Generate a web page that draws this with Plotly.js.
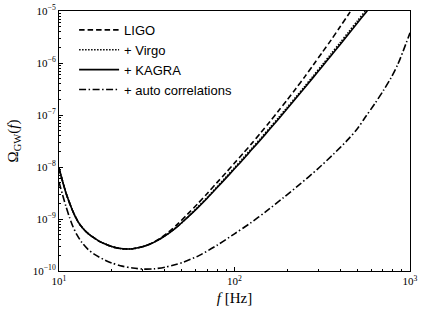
<!DOCTYPE html>
<html>
<head>
<meta charset="utf-8">
<script src="https://cdn.plot.ly/plotly-3.0.1.min.js"></script>
<style>html,body{margin:0;padding:0;background:#fff;}#plot{width:424px;height:316px;}</style>
</head>
<body>
<div id="plot"></div>
<script>
// Series names
const seriesNames = ["LIGO", "+ Virgo", "+ KAGRA", "+ auto correlations"];

// Frequencies (Hz) at which the network curves were read
const fNet = [10, 10.47, 10.96, 11.48, 11.89, 12.33, 12.88, 13.49, 14.13, 14.79, 15.85, 16.98, 18.32, 19.95, 22.39, 24.49, 26.3, 28.18, 30.2, 32.28, 34.67, 38.02, 41.98, 47.86, 53.83, 61.66, 70.15, 79.43, 89.13, 100, 112.2, 125.9, 141.3, 158.5, 177.8, 199.5, 223.9, 251.2, 281.8, 316.2, 354.8, 398.1, 446.7, 501.2, 562.3, 631.0];

// LIGO (dashed)
const omegaLIGO = [9.55e-9, 5.37e-9, 3.16e-9, 2.04e-9, 1.51e-9, 1.15e-9, 8.71e-10, 7.0e-10, 5.89e-10, 5.13e-10, 4.32e-10, 3.72e-10, 3.31e-10, 2.95e-10, 2.70e-10, 2.65e-10, 2.68e-10, 2.79e-10, 2.95e-10, 3.20e-10, 3.59e-10, 4.34e-10, 5.56e-10, 8.22e-10, 1.22e-9, 1.96e-9, 3.13e-9, 5.01e-9, 7.67e-9, 1.19e-8, 1.84e-8, 2.88e-8, 4.57e-8, 7.33e-8, 1.19e-7, 1.95e-7, 3.24e-7, 5.41e-7, 9.29e-7, 1.60e-6, 2.75e-6, 4.88e-6, 8.67e-6, 1.54e-5, 2.75e-5, 4.9e-5];

// + Virgo (dotted)
const omegaVirgo = [9.55e-9, 5.37e-9, 3.16e-9, 2.04e-9, 1.51e-9, 1.15e-9, 8.71e-10, 7.0e-10, 5.89e-10, 5.13e-10, 4.32e-10, 3.72e-10, 3.31e-10, 2.95e-10, 2.70e-10, 2.65e-10, 2.68e-10, 2.79e-10, 2.95e-10, 3.20e-10, 3.55e-10, 4.22e-10, 5.25e-10, 7.41e-10, 1.06e-9, 1.68e-9, 2.63e-9, 4.14e-9, 6.31e-9, 9.66e-9, 1.49e-8, 2.31e-8, 3.57e-8, 5.61e-8, 8.79e-8, 1.40e-7, 2.22e-7, 3.55e-7, 5.70e-7, 9.18e-7, 1.49e-6, 2.41e-6, 3.93e-6, 6.40e-6, 1.04e-5, 1.70e-5];

// + KAGRA (solid)
const omegaKAGRA = [9.55e-9, 5.37e-9, 3.16e-9, 2.04e-9, 1.51e-9, 1.15e-9, 8.71e-10, 7.0e-10, 5.89e-10, 5.13e-10, 4.32e-10, 3.72e-10, 3.31e-10, 2.95e-10, 2.70e-10, 2.65e-10, 2.68e-10, 2.79e-10, 2.95e-10, 3.20e-10, 3.55e-10, 4.22e-10, 5.25e-10, 7.41e-10, 1.06e-9, 1.64e-9, 2.54e-9, 3.98e-9, 6.03e-9, 9.23e-9, 1.41e-8, 2.19e-8, 3.39e-8, 5.31e-8, 8.32e-8, 1.32e-7, 2.09e-7, 3.33e-7, 5.35e-7, 8.57e-7, 1.38e-6, 2.23e-6, 3.61e-6, 5.86e-6, 9.51e-6, 1.55e-5];

// + auto correlations (dash-dot)
const fAuto = [10, 10.47, 10.96, 11.48, 12.02, 12.59, 13.49, 14.59, 15.85, 18.28, 19.95, 22.91, 26.3, 30.2, 34.67, 40.36, 45.71, 51.17, 63.1, 79.98, 100, 123.0, 151.4, 190.1, 237.1, 297.2, 367.3, 446.7, 504.7, 562.3, 631.0, 707.9, 778.0, 851.1, 912.0, 955.0, 1000];
const omegaAuto = [5.13e-9, 2.95e-9, 1.74e-9, 1.07e-9, 7.08e-10, 5.13e-10, 3.55e-10, 2.63e-10, 2.11e-10, 1.62e-10, 1.43e-10, 1.24e-10, 1.14e-10, 1.09e-10, 1.10e-10, 1.19e-10, 1.32e-10, 1.48e-10, 2.00e-10, 3.16e-10, 5.19e-10, 8.32e-10, 1.40e-9, 2.57e-9, 4.73e-9, 9.12e-9, 1.78e-8, 3.47e-8, 5.62e-8, 9.55e-8, 1.66e-7, 3.02e-7, 5.13e-7, 9.33e-7, 1.66e-6, 2.51e-6, 3.80e-6];

const xTickVals = [10, 100, 1000];
const xTickText = ["10<sup>1</sup>", "10<sup>2</sup>", "10<sup>3</sup>"];
const yTickVals = [1e-10, 1e-9, 1e-8, 1e-7, 1e-6, 1e-5];
const yTickText = ["10<sup>−10</sup>", "10<sup>−9</sup>", "10<sup>−8</sup>", "10<sup>−7</sup>", "10<sup>−6</sup>", "10<sup>−5</sup>"];

const lw = 1.6;
const sm = {shape: "spline", smoothing: 0.8};
const traces = [
  {x: fNet, y: omegaLIGO, name: seriesNames[0], mode: "lines", line: Object.assign({color: "#000", width: lw, dash: "5.5px,3px"}, sm)},
  {x: fNet, y: omegaVirgo, name: seriesNames[1], mode: "lines", line: Object.assign({color: "#000", width: lw, dash: "1.5px,1.5px"}, sm)},
  {x: fNet, y: omegaKAGRA, name: seriesNames[2], mode: "lines", line: Object.assign({color: "#000", width: lw, dash: "solid"}, sm)},
  {x: fAuto, y: omegaAuto, name: seriesNames[3], mode: "lines", line: Object.assign({color: "#000", width: lw, dash: "7px,2.5px,1.5px,2.5px"}, sm)}
];

const serif = "Liberation Serif, DejaVu Serif, serif";
const layout = {
  width: 424, height: 316,
  margin: {l: 59, r: 14, t: 11, b: 45},
  paper_bgcolor: "#fff", plot_bgcolor: "#fff",
  showlegend: true,
  legend: {x: 0.043, y: 0.985, xanchor: "left", yanchor: "top", bgcolor: "rgba(0,0,0,0)", borderwidth: 0,
           font: {family: "Liberation Sans, Arial, sans-serif", size: 13, color: "#000"}, tracegroupgap: 0, itemwidth: 40},
  xaxis: {
    type: "log", range: [1, 3], showgrid: false, zeroline: false,
    showline: true, linecolor: "#000", linewidth: 1, mirror: true,
    ticks: "inside", ticklen: 4, tickcolor: "#000",
    tickmode: "array", tickvals: xTickVals, ticktext: xTickText,
    tickfont: {family: serif, size: 11, color: "#000"},
    minor: {ticks: "inside", ticklen: 2, tickcolor: "#000", dtick: "D1", showgrid: false},
    title: {text: "<i>f</i> [Hz]", font: {family: serif, size: 15, color: "#000"}, standoff: 6}
  },
  yaxis: {
    type: "log", range: [-10, -5], showgrid: false, zeroline: false,
    showline: true, linecolor: "#000", linewidth: 1, mirror: true,
    ticks: "inside", ticklen: 4, tickcolor: "#000",
    tickmode: "array", tickvals: yTickVals, ticktext: yTickText,
    tickfont: {family: serif, size: 11, color: "#000"},
    minor: {ticks: "inside", ticklen: 2, tickcolor: "#000", dtick: "D1", showgrid: false},
    title: {text: "Ω<sub>GW</sub>(<i>f</i>)", font: {family: serif, size: 15, color: "#000"}, standoff: 10}
  }
};

Plotly.newPlot("plot", traces, layout, {staticPlot: true, displayModeBar: false});
</script>
</body>
</html>
